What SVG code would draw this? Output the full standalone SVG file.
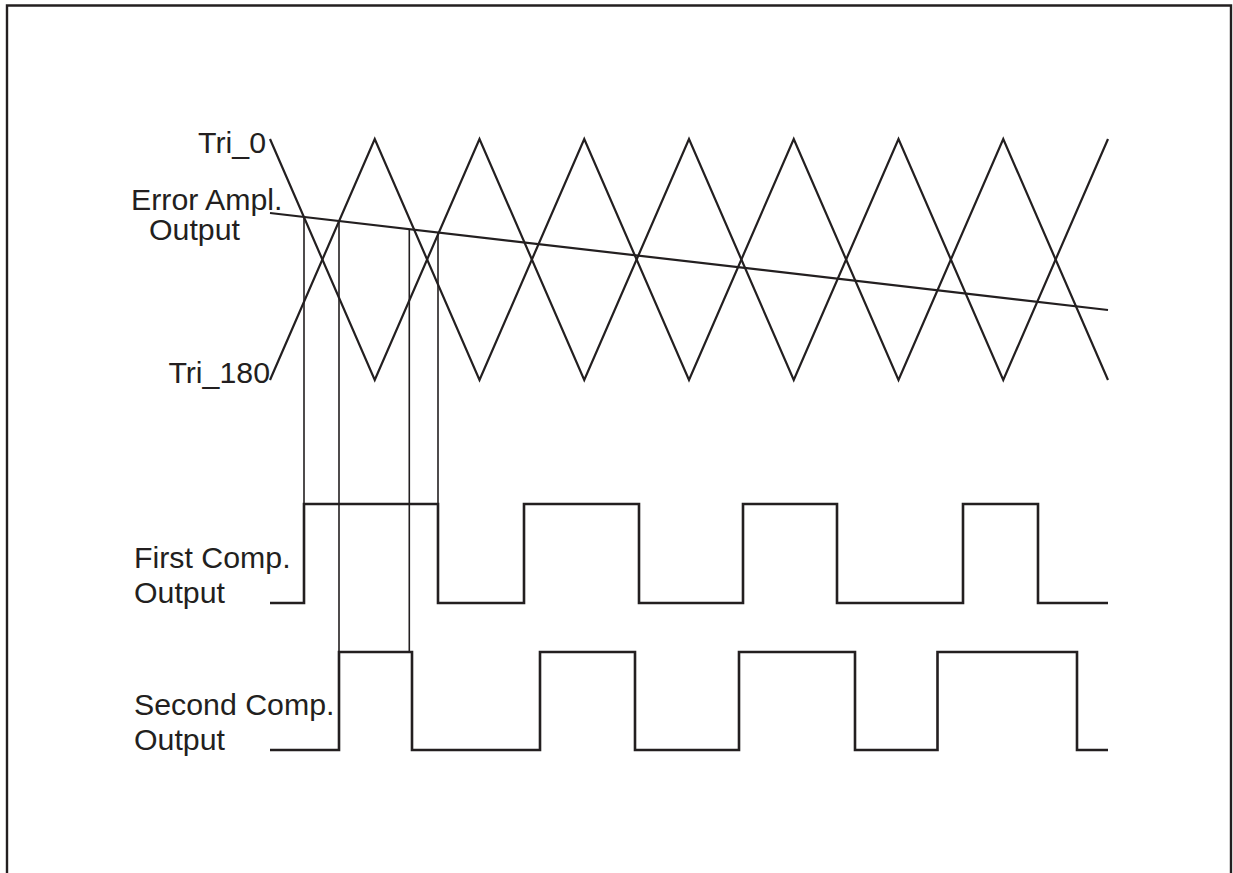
<svg xmlns="http://www.w3.org/2000/svg" width="1233" height="873" viewBox="0 0 1233 873">
<style>
.bg{fill:#ffffff}
.frame{fill:none;stroke:#231f20;stroke-width:2.4}
.tri{fill:none;stroke:#231f20;stroke-width:2.2;stroke-linejoin:miter}
.err{fill:none;stroke:#231f20;stroke-width:2.2}
.wave{fill:none;stroke:#231f20;stroke-width:2.6;stroke-linejoin:miter}
.conn{fill:none;stroke:#231f20;stroke-width:1.6}
.lbl{font-family:"Liberation Sans",Arial,sans-serif;font-size:30.3px;fill:#231f20}
</style>
<rect class="bg" x="0" y="0" width="1233" height="873"/>
<g id="frame">
<polyline class="frame" points="7,873 7,5.5 1231,5.5 1231,873"/>
</g>
<g id="tri0">
<polyline class="tri" points="270,139 374.75,380 479.5,139 584.25,380 689,139 793.75,380 898.5,139 1003.25,380 1108,139"/>
<text class="lbl" x="266" y="153" text-anchor="end">Tri_0</text>
</g>
<g id="tri180">
<polyline class="tri" points="270,380 374.75,139 479.5,380 584.25,139 689,380 793.75,139 898.5,380 1003.25,139 1108,380"/>
<text class="lbl" x="270" y="383" text-anchor="end">Tri_180</text>
</g>
<g id="error">
<line class="err" x1="270" y1="213" x2="1108" y2="310"/>
<text class="lbl" x="131" y="210">Error Ampl.</text>
<text class="lbl" x="149" y="240">Output</text>
</g>
<g id="first">
<polyline class="wave" points="270,603 304,603 304,504 438,504 438,603 524,603 524,504 639,504 639,603 743,603 743,504 837,504 837,603 963,603 963,504 1038,504 1038,603 1108,603"/>
<text class="lbl" x="134" y="568">First Comp.</text>
<text class="lbl" x="134" y="603">Output</text>
</g>
<g id="second">
<polyline class="wave" points="270,750 339,750 339,652 412,652 412,750 540,750 540,652 635,652 635,750 739,750 739,652 855,652 855,750 937.5,750 937.5,652 1077,652 1077,750 1108,750"/>
<text class="lbl" x="134" y="715">Second Comp.</text>
<text class="lbl" x="134" y="750">Output</text>
</g>
<g id="connectors">
<line class="conn" x1="304" y1="217" x2="304" y2="504"/>
<line class="conn" x1="339" y1="221" x2="339" y2="652"/>
<line class="conn" x1="409.3" y1="229" x2="409.3" y2="652"/>
<line class="conn" x1="438" y1="232.5" x2="438" y2="504"/>
</g>
</svg>
